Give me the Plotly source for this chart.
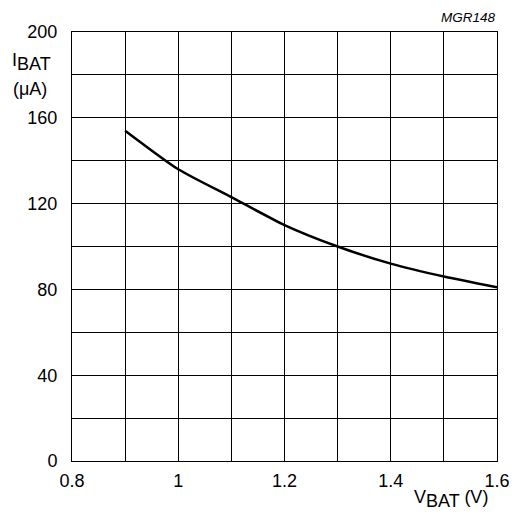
import plotly.graph_objects as go

v_bat = [0.9, 1.0, 1.1, 1.2, 1.3, 1.4, 1.5, 1.6]
i_bat = [154, 136, 123, 110, 100, 92, 86, 81]
x_ticks = [0.8, 1.0, 1.2, 1.4, 1.6]
x_tick_labels = ["0.8", "1", "1.2", "1.4", "1.6"]
y_ticks = [0, 40, 80, 120, 160, 200]

FONT = "Liberation Sans, Arial, sans-serif"
TICKFONT = dict(family=FONT, size=18, color="black")

fig = go.Figure()
fig.add_trace(go.Scatter(x=v_bat, y=i_bat, mode="lines",
                         line=dict(color="black", width=2.5, shape="spline", smoothing=0.6),
                         showlegend=False, hoverinfo="skip"))

fig.update_layout(
    width=514, height=515,
    margin=dict(l=72, r=17, t=32, b=54, autoexpand=False),
    paper_bgcolor="white", plot_bgcolor="white",
    font=dict(family=FONT, size=18, color="black"),
    xaxis=dict(range=[0.8, 1.6], tickvals=x_ticks, ticktext=x_tick_labels, tickfont=TICKFONT,
               showgrid=True, gridcolor="black", gridwidth=1,
               minor=dict(dtick=0.1, tick0=0.8, showgrid=True, gridcolor="black", gridwidth=1),
               showline=True, linecolor="black", linewidth=1, mirror=True,
               ticks="", zeroline=False, fixedrange=True, ticklabelstandoff=3,
               ticklabeloverflow="allow"),
    yaxis=dict(range=[0, 200], tickvals=y_ticks, tickfont=TICKFONT,
               showgrid=True, gridcolor="black", gridwidth=1,
               minor=dict(dtick=20, tick0=0, showgrid=True, gridcolor="black", gridwidth=1),
               showline=True, linecolor="black", linewidth=1, mirror=True,
               ticks="", zeroline=False, fixedrange=True, ticklabelstandoff=10,
               ticklabeloverflow="allow"),
    annotations=[
        dict(text="I<sub><span style='font-size:18px'>BAT</span></sub>", xref="paper", yref="paper",
             x=-0.145, y=0.93, xanchor="left", yanchor="middle", showarrow=False, font=dict(size=18)),
        dict(text="(\u03bcA)", xref="paper", yref="paper", x=-0.143, y=0.866,
             xanchor="left", yanchor="middle", showarrow=False, font=dict(size=18)),
        dict(text="V<sub><span style='font-size:18px'>BAT</span></sub> (V)", xref="paper", yref="paper",
             x=0.984, y=-0.0886, xanchor="right", yanchor="middle", showarrow=False, font=dict(size=18)),
        dict(text="<i>MGR148</i>", xref="paper", yref="paper", x=1.003, y=1.033,
             xanchor="right", yanchor="middle", showarrow=False, font=dict(size=13.5)),
    ],
)

# remove the default page margin so the 514x515 figure fills the window exactly
fig.write_html("out.html",
               config={"displayModeBar": False},
               post_script="document.body.style.margin='0';document.body.style.overflow='hidden';")
